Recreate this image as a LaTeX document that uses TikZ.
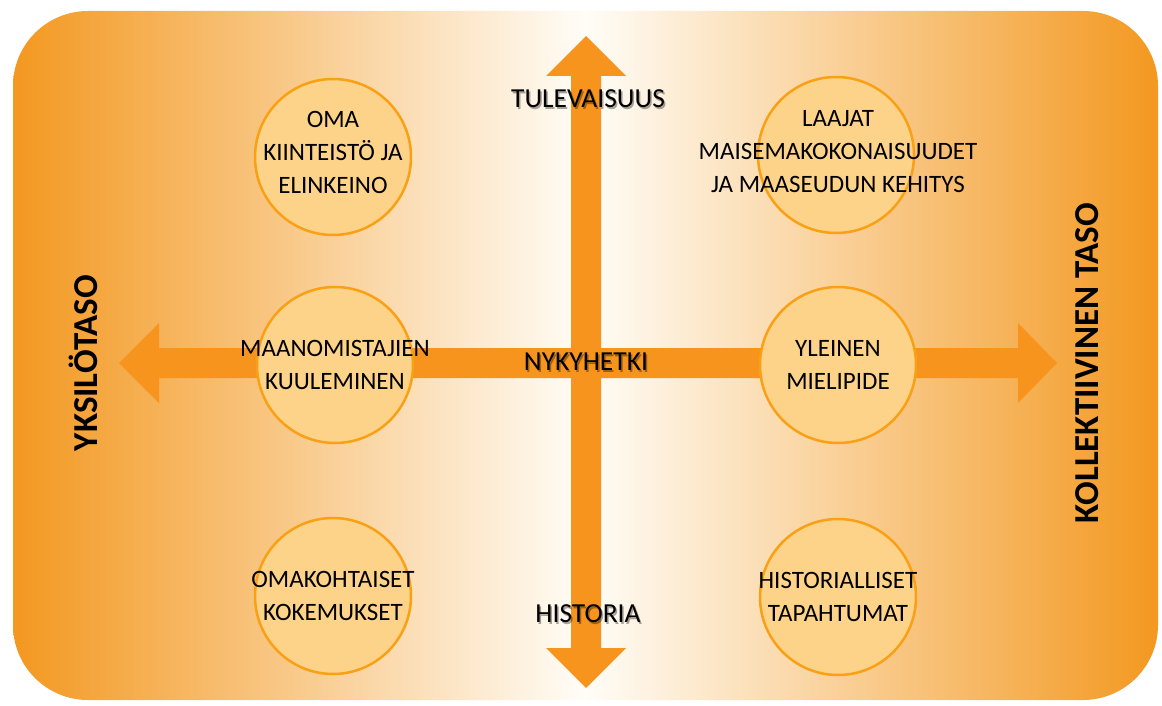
\documentclass[tikz,border=0pt]{standalone}
\usepackage{fontspec}
\setmainfont{Carlito}
\usepackage{tikz}

\definecolor{bgorange}{RGB}{243,152,32}
\definecolor{midwhite}{RGB}{255,253,248}
\definecolor{arroworange}{RGB}{247,148,29}
\definecolor{ringline}{RGB}{250,160,20}
\definecolor{ringfill}{RGB}{253,211,138}

\begin{document}
\begin{tikzpicture}[x=1pt,y=-1pt,
        ring/.style={circle,draw=ringline,line width=2.5pt,fill=ringfill,minimum size=156pt,inner sep=0pt},
        ringtext/.style={align=center,font=\fontsize{25}{33}\selectfont,inner sep=0pt},
        sidelabel/.style={rotate=90,font=\fontsize{35}{40}\selectfont\bfseries},
        axislabel/.style={font=\fontsize{27.5}{30}\selectfont,inner sep=0pt},
        axisshadow/.style={axislabel,text=black,text opacity=0.35,xshift=1.5pt,yshift=-2pt}]
    \useasboundingbox (0,0) rectangle (1162,706);
    % background
    \shade[rounded corners=75pt,left color=bgorange,right color=bgorange,middle color=midwhite]
        (13,11) rectangle (1158,700);
    % arrows
    \fill[arroworange] (119,363) -- (159,323) -- (159,348) -- (1018,348) -- (1018,323)
        -- (1057,363) -- (1018,403) -- (1018,378) -- (159,378) -- (159,403) -- cycle;
    \fill[arroworange] (586,36) -- (626,76) -- (601,76) -- (601,648) -- (626,648)
        -- (586,688) -- (546,648) -- (571,648) -- (571,76) -- (546,76) -- cycle;
    % circles
    \node[ring] (own) at (333,157) {};
    \node[ring] (hear) at (335,365) {};
    \node[ring] (exp) at (333,596) {};
    \node[ring] (land) at (836,155) {};
    \node[ring] (opin) at (838,365) {};
    \node[ring] (event) at (838,597) {};
    \node[ringtext] at ([yshift=5pt]own) {OMA\\KIINTEISTÖ JA\\ELINKEINO};
    \node[ringtext] at (hear) {MAANOMISTAJIEN\\KUULEMINEN};
    \node[ringtext] at (exp) {OMAKOHTAISET\\KOKEMUKSET};
    \node[ringtext] at ([xshift=2pt,yshift=3pt]land) {LAAJAT\\MAISEMAKOKONAISUUDET\\JA MAASEUDUN KEHITYS};
    \node[ringtext] at (opin) {YLEINEN\\MIELIPIDE};
    \node[ringtext] at (event) {HISTORIALLISET\\TAPAHTUMAT};
    % axis labels
    \foreach \name/\pos/\txt in {fut/{(588,99)}/TULEVAISUUS, now/{(586,362)}/NYKYHETKI, past/{(588,614)}/HISTORIA}{
        \node[axisshadow] at \pos {\txt};
        \node[axislabel] (\name) at \pos {\txt};
    }
    \node[sidelabel] (indiv) at (83,363) {YKSILÖTASO};
    \node[sidelabel] (coll) at (1087,363) {KOLLEKTIIVINEN TASO};
\end{tikzpicture}
\end{document}
